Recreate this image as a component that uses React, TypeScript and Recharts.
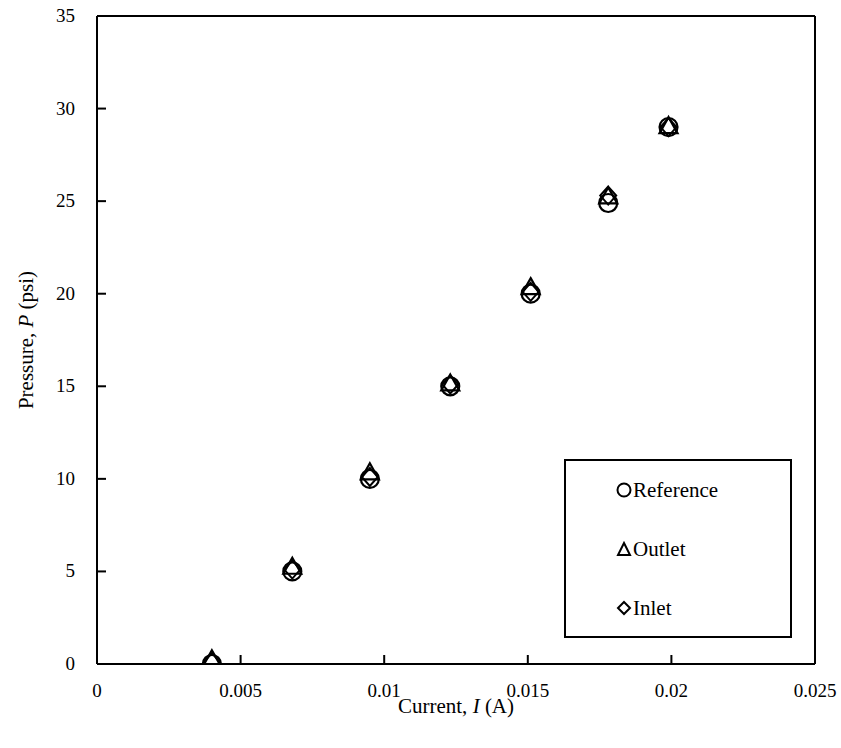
import { ScatterChart, Scatter, XAxis, YAxis, ReferenceLine, Legend } from "recharts";

const current = [0.004, 0.0068, 0.0095, 0.0123, 0.0151, 0.0178, 0.0199];
const referenceP = [0, 5, 10, 15, 20, 24.9, 29];
const outletP = [0.2, 5.2, 10.3, 15.1, 20.3, 25.2, 29];
const inletP = [0.1, 5.1, 10.1, 15.1, 20.1, 25.3, 29];
const xTicks = [0, 0.005, 0.01, 0.015, 0.02, 0.025];
const yTicks = [0, 5, 10, 15, 20, 25, 30, 35];

const FONT = "Liberation Serif, Times New Roman, serif";

const toPoints = (ys: number[]) => current.map((x, i) => ({ x, y: ys[i] }));

const CircleMark = (p: any) => (
  <circle cx={p.cx} cy={p.cy} r={9} fill="none" stroke="#000" strokeWidth={2.2} />
);
const TriangleMark = (p: any) => (
  <path
    d={`M${p.cx},${p.cy - 10} L${p.cx + 9},${p.cy + 6} L${p.cx - 9},${p.cy + 6} Z`}
    fill="none"
    stroke="#000"
    strokeWidth={2.2}
  />
);
const DiamondMark = (p: any) => (
  <path
    d={`M${p.cx},${p.cy - 9} L${p.cx + 8},${p.cy} L${p.cx},${p.cy + 9} L${p.cx - 8},${p.cy} Z`}
    fill="none"
    stroke="#000"
    strokeWidth={2}
  />
);

// ticks point inward, drawn together with their labels
const XTick = (p: any) => (
  <g>
    <rect x={p.x - 1} y={p.y - 9} width={2} height={9} fill="#000" />
    <text x={p.x} y={p.y + 33} textAnchor="middle" fontFamily={FONT} fontSize={19} fill="#000">
      {p.payload.value}
    </text>
  </g>
);
const YTick = (p: any) => (
  <g>
    <rect x={p.x} y={p.y - 1} width={9} height={2} fill="#000" />
    <text x={p.x - 22} y={p.y + 6} textAnchor="end" fontFamily={FONT} fontSize={19} fill="#000">
      {p.payload.value}
    </text>
  </g>
);

const legendItems = [
  { name: "Reference", icon: <circle cx={8} cy={8} r={6.5} fill="none" stroke="#000" strokeWidth={2} /> },
  { name: "Outlet", icon: <path d="M8,2 L14,14 L2,14 Z" fill="none" stroke="#000" strokeWidth={2} /> },
  { name: "Inlet", icon: <path d="M8,2 L14,8 L8,14 L2,8 Z" fill="none" stroke="#000" strokeWidth={2} /> },
];

function LegendBox() {
  return (
    <div
      style={{
        position: "relative",
        width: 224,
        height: 175,
        border: "2px solid #000",
        background: "#fff",
        fontFamily: FONT,
        fontSize: 21,
        color: "#000",
      }}
    >
      {legendItems.map((it, i) => (
        <div
          key={it.name}
          style={{ position: "absolute", left: 50, top: 17 + i * 59, display: "flex", alignItems: "center", lineHeight: "24px" }}
        >
          <svg width={16} height={16} style={{ marginRight: 1 }}>
            {it.icon}
          </svg>
          <span>{it.name}</span>
        </div>
      ))}
    </div>
  );
}

export default function App() {
  return (
    <div style={{ position: "absolute", left: 0, top: 0, width: 841, height: 748, background: "#fff", fontFamily: FONT }}>
      <ScatterChart width={841} height={748} margin={{ top: 16, right: 26, bottom: 24, left: 37 }}>
        <XAxis
          type="number"
          dataKey="x"
          domain={[0, 0.025]}
          ticks={xTicks}
          interval={0}
          allowDataOverflow
          tickSize={0}
          tickMargin={0}
          tickLine={false}
          height={60}
          axisLine={{ stroke: "#000", strokeWidth: 2 }}
          tick={XTick}
          label={{
            content: () => (
              <text x={456} y={713} textAnchor="middle" fontFamily={FONT} fontSize={21} fill="#000">
                Current, <tspan fontStyle="italic">I</tspan> (A)
              </text>
            ),
          }}
        />
        <YAxis
          type="number"
          dataKey="y"
          domain={[0, 35]}
          ticks={yTicks}
          interval={0}
          allowDataOverflow
          width={60}
          tickSize={0}
          tickMargin={0}
          tickLine={false}
          axisLine={{ stroke: "#000", strokeWidth: 2 }}
          tick={YTick}
          label={{
            content: () => (
              <text
                x={33}
                y={340}
                transform="rotate(-90 33 340)"
                textAnchor="middle"
                fontFamily={FONT}
                fontSize={21}
                fill="#000"
              >
                Pressure, <tspan fontStyle="italic">P</tspan> (psi)
              </text>
            ),
          }}
        />
        <ReferenceLine y={35} stroke="#000" strokeWidth={2} />
        <ReferenceLine x={0.025} stroke="#000" strokeWidth={2} />
        <Legend
          layout="horizontal"
          verticalAlign="middle"
          align="center"
          content={() => <LegendBox />}
          wrapperStyle={{ position: "absolute", left: 564, top: 459, width: 228, height: 179 }}
        />
        <Scatter name="Reference" data={toPoints(referenceP)} shape={CircleMark} isAnimationActive={false} />
        <Scatter name="Outlet" data={toPoints(outletP)} shape={TriangleMark} isAnimationActive={false} />
        <Scatter name="Inlet" data={toPoints(inletP)} shape={DiamondMark} isAnimationActive={false} />
      </ScatterChart>
    </div>
  );
}
